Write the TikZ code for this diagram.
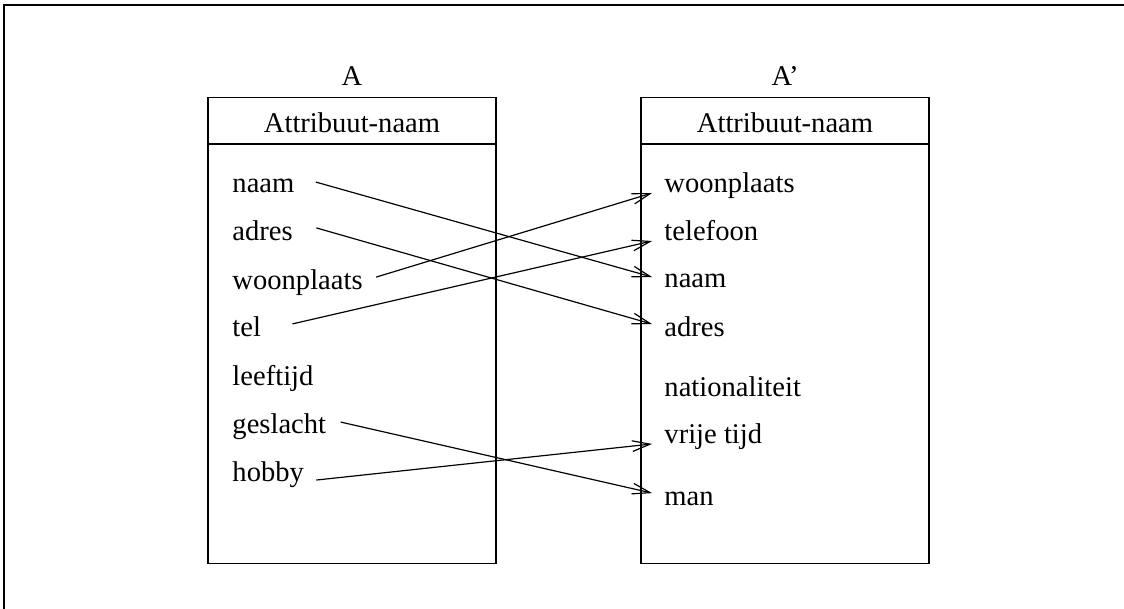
\documentclass[tikz,border=0pt]{standalone}
\usepackage{fontspec}
\setmainfont{Liberation Serif}
\usetikzlibrary{arrows.meta}
\tikzset{
  tbl/.style={draw, line width=0.5pt, minimum width=121pt, minimum height=196pt, inner sep=0pt},
  item/.style={anchor=base west, inner sep=0pt, font=\fontsize{12pt}{14pt}\selectfont},
  title/.style={anchor=base, inner sep=0pt, font=\fontsize{12pt}{14pt}\selectfont},
  map/.style={line width=0.5pt, -{Straight Barb[length=7.5pt,width=4.5pt]}}
}
\begin{document}
\begin{tikzpicture}[x=0.42pt, y=-0.42pt]
\useasboundingbox (0,0) rectangle (1124,609);
% frame
\draw[line width=1.1pt] (4,609) -- (4,5) -- (1124,5);
% table A
\node[tbl] (boxA) at (352,330.5) {};
\draw[line width=0.5pt] (208,144) -- (496,144);
\node[title] (tA) at (352,86) {A};
\node[title] (hA) at (352,133) {Attribuut-naam};
\node[item] (naamL) at (232,193) {naam};
\node[item] (adresL) at (232,241) {adres};
\node[item] (woonL) at (232,289) {woonplaats};
\node[item] (telL) at (232,337) {tel};
\node[item] (leefL) at (232,385) {leeftijd};
\node[item] (geslL) at (232,433) {geslacht};
\node[item] (hobbyL) at (232,481) {hobby};
% table A'
\node[tbl] (boxB) at (785,330.5) {};
\draw[line width=0.5pt] (641,144) -- (929,144);
\node[title] (tB) at (785,86) {A’};
\node[title] (hB) at (785,133) {Attribuut-naam};
\node[item] (woonR) at (664,193) {woonplaats};
\node[item] (telR) at (664,241) {telefoon};
\node[item] (naamR) at (664,288) {naam};
\node[item] (adresR) at (664,336) {adres};
\node[item] (natR) at (664,396) {nationaliteit};
\node[item] (vrijR) at (664,443) {vrije tijd};
\node[item] (manR) at (664,505) {man};
% mapping
\draw[map] ([shift={(8.8pt,4.6pt)}]naamL.base east) -- ([shift={(-5pt,4.6pt)}]naamR.base west);
\draw[map] ([shift={(9.7pt,5.5pt)}]adresL.base east) -- ([shift={(-5pt,5pt)}]adresR.base west);
\draw[map] ([shift={(5.5pt,5pt)}]woonL.base east) -- ([shift={(-5pt,0pt)}]woonR.base west);
\draw[map] ([shift={(13pt,5.5pt)}]telL.base east) -- ([shift={(-5pt,0pt)}]telR.base west);
\draw[map] ([shift={(5.9pt,4.6pt)}]geslL.base east) -- ([shift={(-5pt,5pt)}]manR.base west);
\draw[map] ([shift={(5pt,0.4pt)}]hobbyL.base east) -- ([shift={(-5pt,-0.4pt)}]vrijR.base west);
\end{tikzpicture}
\end{document}
